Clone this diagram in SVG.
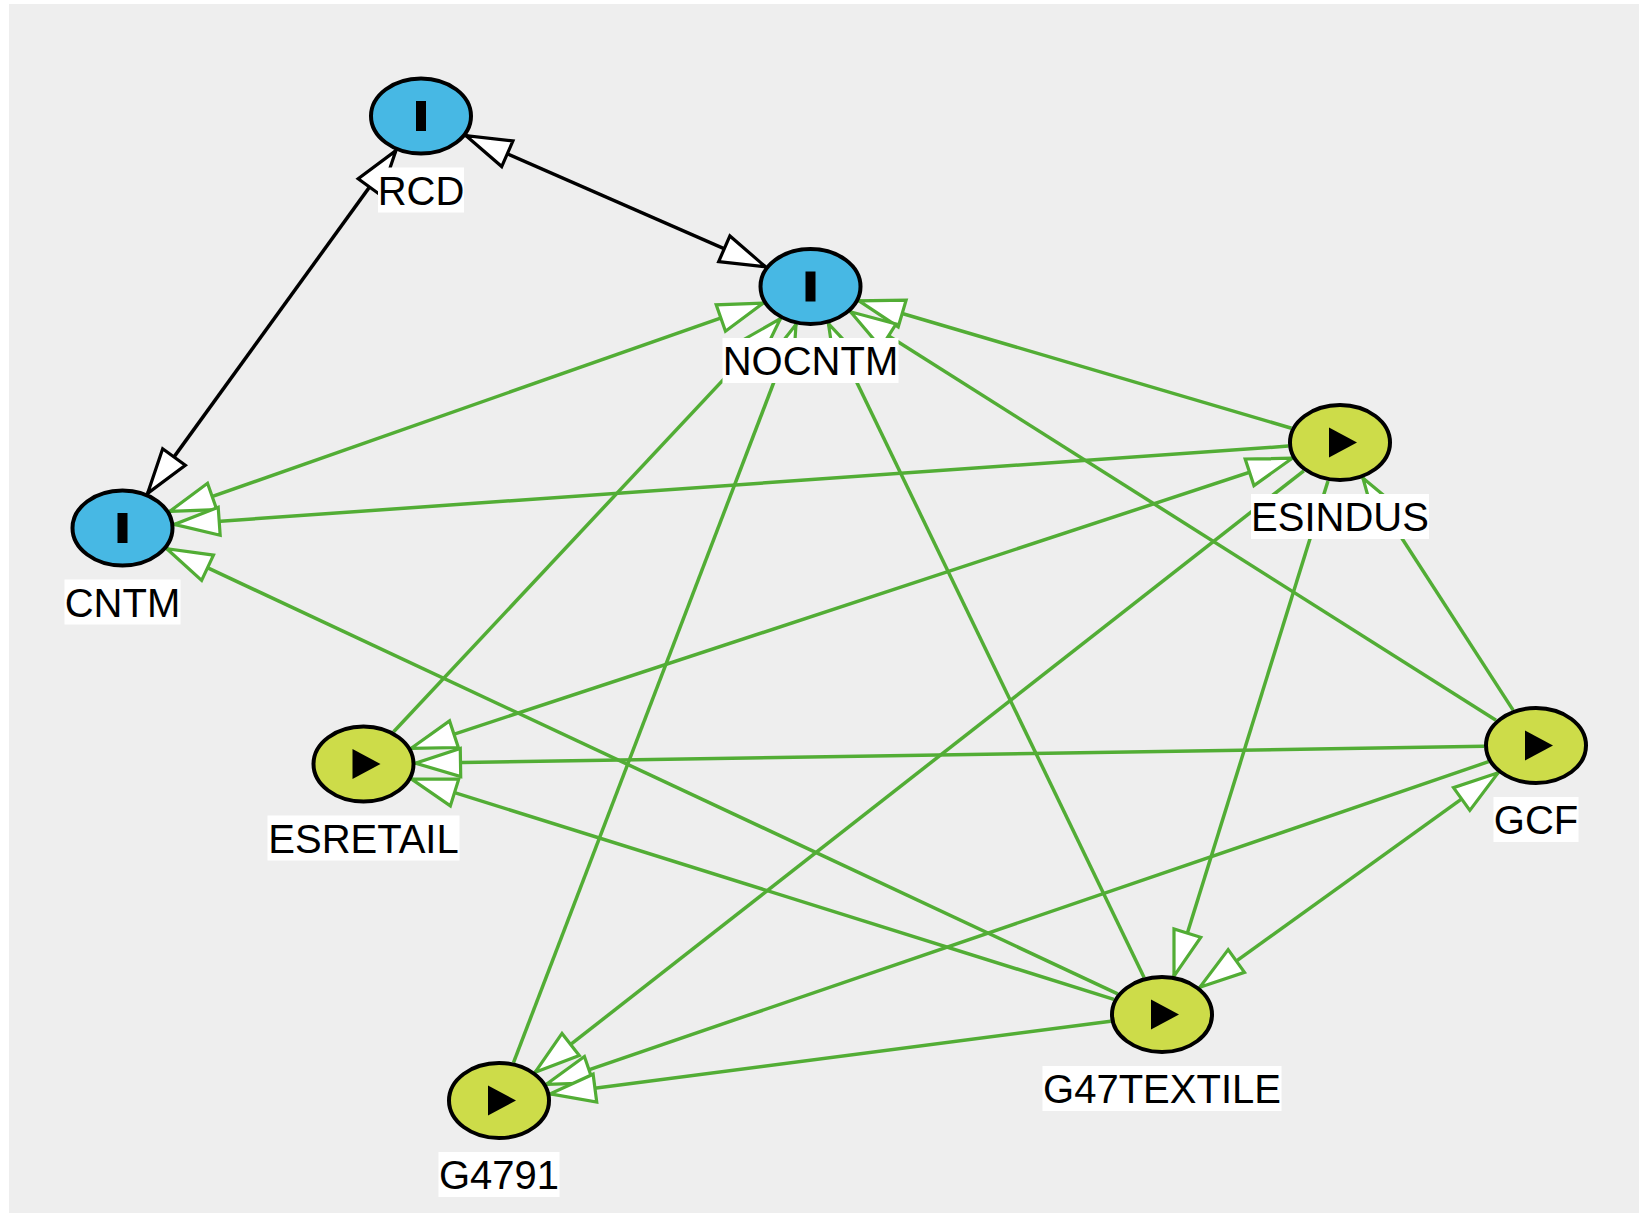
<svg xmlns="http://www.w3.org/2000/svg" width="1639" height="1215" viewBox="0 0 1639 1215">
  <style>
    .edge { fill: none; stroke-width: 3.5; }
    .g { stroke: #52ad35; }
    .k { stroke: #000000; }
    .both.g { marker-start: url(#arrowG); marker-end: url(#arrowG); }
    .end.g { marker-end: url(#arrowG); }
    .both.k { marker-start: url(#arrowK); marker-end: url(#arrowK); }
    .shape { stroke: #000000; stroke-width: 4; }
    .blue { fill: #47b8e4; }
    .lime { fill: #cddc49; }
    .icon { fill: #000000; }
    .lblbox { fill: #ffffff; }
    .lbl { font-family: "Liberation Sans", Arial, sans-serif; font-size: 40px; fill: #000000; text-anchor: middle; }
  </style>
  <defs>
    <marker id="arrowG" markerUnits="userSpaceOnUse" orient="auto-start-reverse" refX="0" refY="0" markerWidth="1" markerHeight="1" overflow="visible">
      <path d="M0,0 L-45,-14 L-45,14 Z" fill="#ffffff" stroke="#52ad35" stroke-width="3.2" stroke-linejoin="miter"/>
    </marker>
    <marker id="arrowK" markerUnits="userSpaceOnUse" orient="auto-start-reverse" refX="0" refY="0" markerWidth="1" markerHeight="1" overflow="visible">
      <path d="M0,0 L-45,-14 L-45,14 Z" fill="#ffffff" stroke="#000000" stroke-width="3.2" stroke-linejoin="miter"/>
    </marker>
  </defs>

  <rect x="0" y="0" width="1639" height="1215" fill="#ffffff"/>
  <rect x="9" y="4" width="1630" height="1209" fill="#eeeeee"/>

  <g id="connectors">
    <!-- black links -->
    <path class="edge k both" d="M466.1,135.7 L765.5,266.8"/>
    <path class="edge k both" d="M395.9,150.6 L147.6,493.4"/>
    <!-- into NOCNTM -->
    <path class="edge g both" d="M169.7,511.4 L763.3,303.1"/>
    <path class="edge g end" d="M393.6,731.8 L780.4,318.7"/>
    <path class="edge g end" d="M513.5,1062.6 L796.0,324.4"/>
    <path class="edge g end" d="M1144.1,977.4 L828.4,323.6"/>
    <path class="edge g end" d="M1291.5,428.2 L859.0,300.8"/>
    <path class="edge g end" d="M1496.0,720.2 L850.5,311.8"/>
    <!-- into CNTM -->
    <path class="edge g end" d="M1288.2,446.1 L174.3,524.4"/>
    <path class="edge g end" d="M1117.7,993.8 L166.8,548.7"/>
    <!-- into ESRETAIL -->
    <path class="edge g both" d="M1292.3,458.2 L411.2,748.3"/>
    <path class="edge g end" d="M1484.0,746.3 L415.5,763.2"/>
    <path class="edge g end" d="M1113.9,999.4 L411.6,779.1"/>
    <!-- into G47TEXTILE / GCF / ESINDUS -->
    <path class="edge g end" d="M1328.0,480.9 L1174.0,976.1"/>
    <path class="edge g both" d="M1498.2,772.7 L1199.8,987.3"/>
    <path class="edge g end" d="M1513.1,710.1 L1362.9,478.0"/>
    <!-- into G4791 -->
    <path class="edge g end" d="M1303.8,470.8 L535.2,1072.2"/>
    <path class="edge g end" d="M1488.6,761.7 L546.4,1084.3"/>
    <path class="edge g end" d="M1110.7,1021.2 L550.3,1093.9"/>
  </g>

  <g id="RCD">
    <ellipse class="shape blue" cx="421" cy="116" rx="50" ry="37.5"/>
    <rect class="icon" x="416" y="101" width="10" height="30"/>
    <rect class="lblbox" x="378" y="167.5" width="86" height="45"/>
    <text class="lbl" x="421" y="204.5">RCD</text>
  </g>
  <g id="NOCNTM">
    <ellipse class="shape blue" cx="810.5" cy="286.5" rx="50" ry="37.5"/>
    <rect class="icon" x="805.5" y="271.5" width="10" height="30"/>
    <rect class="lblbox" x="722.5" y="338" width="176" height="45"/>
    <text class="lbl" x="810.5" y="375">NOCNTM</text>
  </g>
  <g id="CNTM">
    <ellipse class="shape blue" cx="122.5" cy="528" rx="50" ry="37.5"/>
    <rect class="icon" x="117.5" y="513" width="10" height="30"/>
    <rect class="lblbox" x="64.5" y="579.5" width="116" height="45"/>
    <text class="lbl" x="122.5" y="616.5">CNTM</text>
  </g>
  <g id="ESINDUS">
    <ellipse class="shape lime" cx="1340" cy="442.5" rx="50" ry="37.5"/>
    <polygon class="icon" points="1329,427.5 1357,442.5 1329,457.5"/>
    <rect class="lblbox" x="1251" y="494" width="178" height="45"/>
    <text class="lbl" x="1340" y="531">ESINDUS</text>
  </g>
  <g id="GCF">
    <ellipse class="shape lime" cx="1536" cy="745.5" rx="50" ry="37.5"/>
    <polygon class="icon" points="1525,730.5 1553,745.5 1525,760.5"/>
    <rect class="lblbox" x="1493.5" y="797" width="85" height="45"/>
    <text class="lbl" x="1536" y="834">GCF</text>
  </g>
  <g id="ESRETAIL">
    <ellipse class="shape lime" cx="363.5" cy="764" rx="50" ry="37.5"/>
    <polygon class="icon" points="352.5,749 380.5,764 352.5,779"/>
    <rect class="lblbox" x="267.5" y="815.5" width="192" height="45"/>
    <text class="lbl" x="363.5" y="852.5">ESRETAIL</text>
  </g>
  <g id="G4791">
    <ellipse class="shape lime" cx="499" cy="1100.5" rx="50" ry="37.5"/>
    <polygon class="icon" points="488,1085.5 516,1100.5 488,1115.5"/>
    <rect class="lblbox" x="438.5" y="1152" width="121" height="45"/>
    <text class="lbl" x="499" y="1189">G4791</text>
  </g>
  <g id="G47TEXTILE">
    <ellipse class="shape lime" cx="1162" cy="1014.5" rx="50" ry="37.5"/>
    <polygon class="icon" points="1151,999.5 1179,1014.5 1151,1029.5"/>
    <rect class="lblbox" x="1042.5" y="1066" width="239" height="45"/>
    <text class="lbl" x="1162" y="1103">G47TEXTILE</text>
  </g>
</svg>
